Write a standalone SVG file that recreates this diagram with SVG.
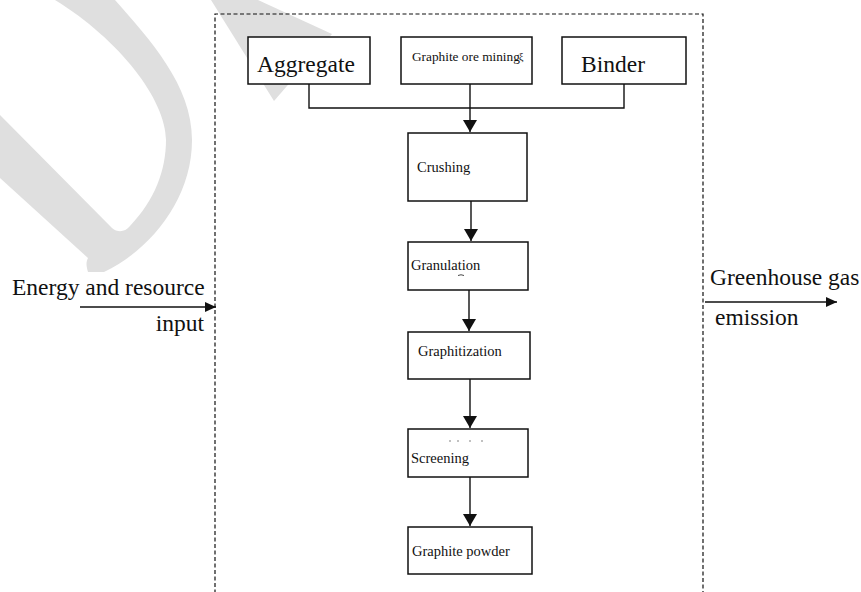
<svg xmlns="http://www.w3.org/2000/svg" width="861" height="592" viewBox="0 0 861 592">
  <style>
    text { font-family: "Liberation Serif", "Times New Roman", serif; fill: #111; }
    .big { font-size: 23.5px; }
    .small { font-size: 14.5px; }
    .box { fill: #fff; stroke: #111; stroke-width: 1.5; }
    .wire { fill: none; stroke: #111; stroke-width: 1.4; }
    .frame { fill: none; stroke: #111; stroke-width: 1.2; stroke-dasharray: 4 2.5; }
    .mark { fill: #dfdfdf; }
    .speck { fill: #555; }
  </style>
  <defs>
    <marker id="ah" markerUnits="userSpaceOnUse" markerWidth="14" markerHeight="14" refX="12" refY="7" orient="auto">
      <path d="M0,0 L12,7 L0,14 Z" fill="#111"/>
    </marker>
    <marker id="ahs" markerUnits="userSpaceOnUse" markerWidth="12" markerHeight="10" refX="11" refY="5" orient="auto">
      <path d="M0,0 L11,5 L0,10 Z" fill="#111"/>
    </marker>
  </defs>

  <rect width="861" height="592" fill="#fff"/>

  <!-- light grey background mark -->
  <g id="backmark">
    <path class="mark" d="M55,0 L115,0 C150,40 192,85 192,140 C192,200 150,250 104,272 L88,272 C86,265 86,262 88,258 L0,178 L0,115 L112,228 C118,233 125,232 130,226 C155,200 166,170 166,140 C166,100 120,40 55,0 Z"/>
    <path class="mark" d="M211,0 L258,0 L332,34 L274,101 Z"/>
  </g>

  <!-- system boundary -->
  <path id="boundary" class="frame" d="M215,600 V14 H703 V600"/>

  <!-- connectors -->
  <g id="connectors">
    <path class="wire" d="M309,84 V108 H624 V84"/>
    <path class="wire" d="M470,84 V132" marker-end="url(#ah)"/>
    <path class="wire" d="M471,201 V241" marker-end="url(#ah)"/>
    <path class="wire" d="M469,290 V331" marker-end="url(#ah)"/>
    <path class="wire" d="M470,379 V428" marker-end="url(#ah)"/>
    <path class="wire" d="M470,477 V526" marker-end="url(#ah)"/>
    <path class="wire" d="M80,307 H216" marker-end="url(#ahs)"/>
    <path class="wire" d="M705,302 H837" marker-end="url(#ahs)"/>
  </g>

  <!-- input / output labels -->
  <g id="input-label">
    <text class="big" x="12" y="295">Energy and resource</text>
    <text class="big" x="204" y="331" text-anchor="end">input</text>
  </g>
  <g id="output-label">
    <text class="big" x="710" y="285">Greenhouse gas</text>
    <text class="big" x="715" y="325">emission</text>
  </g>

  <!-- raw material boxes -->
  <g id="aggregate">
    <rect class="box" x="248" y="37" width="122" height="47"/>
    <text class="big" x="257" y="72">Aggregate</text>
  </g>
  <g id="ore-mining">
    <rect class="box" x="401" y="37" width="131" height="47"/>
    <text x="412" y="61" font-size="13.3">Graphite ore mining</text>
    <text x="519" y="60" font-size="10">ξ</text>
  </g>
  <g id="binder">
    <rect class="box" x="562" y="37" width="124" height="47"/>
    <text class="big" x="581" y="72">Binder</text>
  </g>

  <!-- process steps -->
  <g id="crushing">
    <rect class="box" x="408" y="133" width="119" height="68"/>
    <text class="small" x="417" y="172">Crushing</text>
  </g>
  <g id="granulation">
    <rect class="box" x="408" y="242" width="120" height="48"/>
    <text class="small" x="411" y="270">Granulation</text>
    <path d="M458,275.5 q3,-1.5 6,0" fill="none" stroke="#333" stroke-width="0.9"/>
  </g>
  <g id="graphitization">
    <rect class="box" x="408" y="332" width="122" height="47"/>
    <text class="small" x="418" y="356">Graphitization</text>
  </g>
  <g id="screening">
    <rect class="box" x="408" y="429" width="120" height="48"/>
    <circle class="speck" cx="450" cy="441" r="0.7"/>
    <circle class="speck" cx="458" cy="441" r="0.7"/>
    <circle class="speck" cx="470" cy="441" r="0.7"/>
    <circle class="speck" cx="482" cy="441" r="0.7"/>
    <text class="small" x="411" y="463">Screening</text>
  </g>
  <g id="graphite-powder">
    <rect class="box" x="408" y="527" width="124" height="47"/>
    <text class="small" x="412" y="556">Graphite powder</text>
  </g>
</svg>
